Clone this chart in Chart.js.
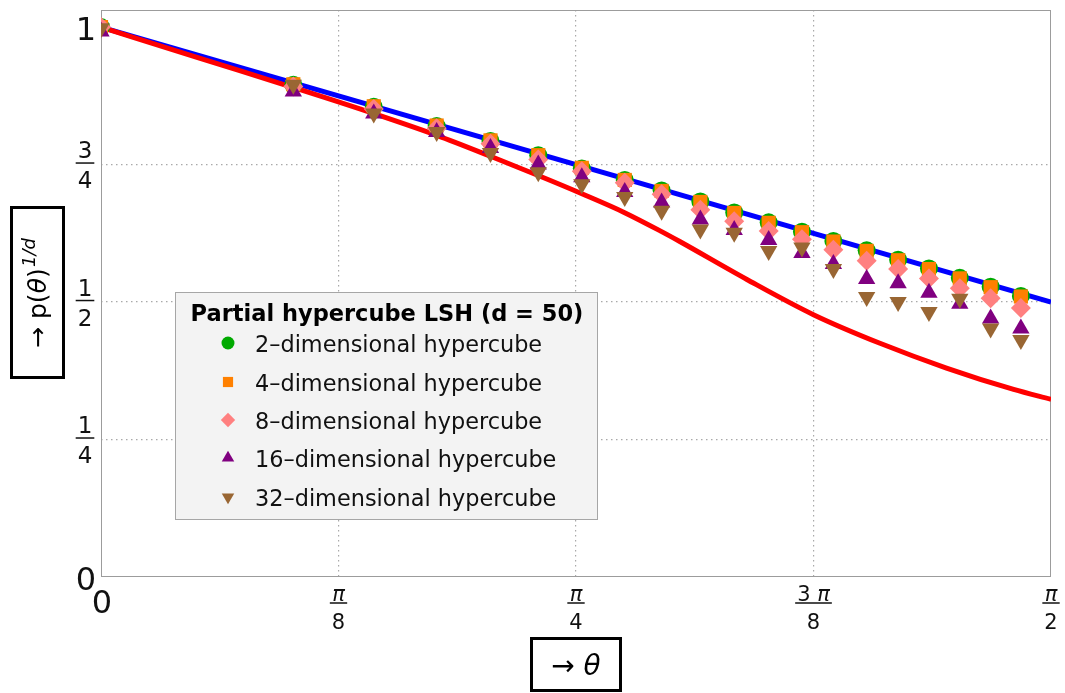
<!DOCTYPE html>
<html>
<head>
<meta charset="utf-8">
<script src="https://cdn.jsdelivr.net/npm/chart.js@4.4.1/dist/chart.umd.min.js"></script>
<style>
    html, body { margin: 0; padding: 0; background: #fff; }
</style>
</head>
<body>
<canvas id="chart" width="1065" height="693"></canvas>
<script>
// Sample angles (radians) and measured collision rates p(theta)^(1/d)
const thetaValues = [0, 0.318, 0.451, 0.555, 0.644, 0.723, 0.795, 0.866, 0.927, 0.991,
    1.047, 1.104, 1.159, 1.211, 1.266, 1.318, 1.369, 1.420, 1.471, 1.521];
const cube2 = [1.000, 0.895, 0.855, 0.820, 0.793, 0.767, 0.743, 0.722, 0.703, 0.683,
    0.663, 0.645, 0.628, 0.611, 0.594, 0.577, 0.561, 0.544, 0.528, 0.511];
const cube4 = [1.000, 0.896, 0.856, 0.821, 0.794, 0.767, 0.744, 0.722, 0.702, 0.682,
    0.662, 0.644, 0.627, 0.610, 0.593, 0.576, 0.560, 0.543, 0.527, 0.510];
const cube8 = [1.000, 0.892, 0.851, 0.816, 0.788, 0.759, 0.738, 0.717, 0.696, 0.668,
    0.647, 0.629, 0.614, 0.595, 0.575, 0.560, 0.543, 0.525, 0.507, 0.489];
const cube16 = [0.992, 0.883, 0.843, 0.809, 0.780, 0.750, 0.727, 0.700, 0.681, 0.650,
    0.631, 0.613, 0.589, 0.569, 0.542, 0.534, 0.517, 0.497, 0.470, 0.452];
const cube32 = [0.998, 0.895, 0.843, 0.809, 0.771, 0.736, 0.714, 0.691, 0.666, 0.632,
    0.626, 0.593, 0.599, 0.560, 0.509, 0.500, 0.482, 0.506, 0.452, 0.431];

// Reference curves
const blueTheta = [0, 1.5708];
const blueValues = [1.0, 0.5];
const redTheta = [0, 0.164, 0.318, 0.428, 0.555, 0.644, 0.723, 0.797, 0.865, 0.927,
    0.957, 1.068, 1.178, 1.288, 1.398, 1.509, 1.571];
const redValues = [1.000, 0.943, 0.890, 0.851, 0.803, 0.765, 0.730, 0.696, 0.663, 0.628,
    0.610, 0.541, 0.477, 0.425, 0.380, 0.341, 0.323];

// Ticks
const xTickValues = [0, 0.3927, 0.7854, 1.1781, 1.5708];
const xTickNumerators = ['0', 'π', 'π', '3 π', 'π'];
const xTickDenominators = ['', '8', '4', '8', '2'];
const yTickValues = [0, 0.25, 0.5, 0.75, 1];
const yTickNumerators = ['0', '1', '1', '3', '1'];
const yTickDenominators = ['', '4', '2', '4', ''];

const legendTitle = 'Partial hypercube LSH (d = 50)';
const seriesNames = ['2–dimensional hypercube', '4–dimensional hypercube', '8–dimensional hypercube',
    '16–dimensional hypercube', '32–dimensional hypercube'];

const FONT = '"DejaVu Sans", Verdana, sans-serif';

function points(xs, ys) {
    return xs.map((x, i) => ({ x: x, y: ys[i] }));
}

function markerSet(label, values, color, style, radius, rotation, order) {
    return {
        label: label,
        data: points(thetaValues, values),
        showLine: false,
        pointStyle: style,
        pointRadius: radius,
        pointRotation: rotation,
        pointBackgroundColor: color,
        pointBorderColor: color,
        pointBorderWidth: 0,
        borderWidth: 0,
        backgroundColor: color,
        borderColor: color,
        legendRadius: radius * 0.72,
        clip: 0,
        order: order
    };
}

// draw a run of text pieces, some italic; returns total width
function pieceWidth(ctx, pieces) {
    let w = 0;
    pieces.forEach(p => {
        ctx.font = p.font;
        w += ctx.measureText(p.t).width;
    });
    return w;
}

function drawPieces(ctx, pieces, x, y) {
    pieces.forEach(p => {
        ctx.font = p.font;
        ctx.fillText(p.t, x, y - (p.rise || 0));
        x += ctx.measureText(p.t).width;
    });
}

function mathPieces(str, size) {
    // π and θ in italics, the rest upright
    const out = [];
    for (const ch of str) {
        const it = ch === 'π' || ch === 'θ';
        out.push({ t: ch, font: (it ? 'italic ' : '') + size + 'px ' + FONT });
    }
    return out;
}

function drawFraction(ctx, cx, barY, num, den, size, numGap, denGap) {
    const np = mathPieces(num, size);
    const dp = mathPieces(den, size);
    const nw = pieceWidth(ctx, np);
    const dw = pieceWidth(ctx, dp);
    const bw = Math.max(nw, dw) + 4;
    ctx.textAlign = 'left';
    ctx.textBaseline = 'alphabetic';
    drawPieces(ctx, np, cx - nw / 2, barY - numGap);
    drawPieces(ctx, dp, cx - dw / 2, barY + denGap);
    ctx.fillRect(cx - bw / 2, barY - 0.75, bw, 1.5);
}

const decorPlugin = {
    id: 'decor',
    beforeDatasetsDraw(chart) {
        const { ctx, chartArea: a } = chart;
        ctx.save();
        ctx.strokeStyle = '#9c9c9c';
        ctx.lineWidth = 1;
        ctx.strokeRect(a.left + 0.5, a.top + 0.5, a.right - a.left - 1, a.bottom - a.top - 1);
        ctx.restore();
    },
    afterDatasetsDraw(chart) {
        const ctx = chart.ctx;
        // legend box
        const bx = 175.5, by = 292.5, bw = 422, bh = 227;
        ctx.save();
        ctx.fillStyle = '#f3f3f3';
        ctx.fillRect(bx, by, bw, bh);
        ctx.strokeStyle = '#a6a6a6';
        ctx.lineWidth = 1;
        ctx.strokeRect(bx, by, bw, bh);
        ctx.fillStyle = '#000';
        ctx.font = 'bold 22.5px ' + FONT;
        ctx.textAlign = 'center';
        ctx.textBaseline = 'alphabetic';
        ctx.fillText(legendTitle, 387, 321);
        const rowY = [343, 382, 420, 458, 497];
        const sets = chart.data.datasets.filter(d => d.showLine === false);
        sets.forEach((ds, i) => {
            ctx.fillStyle = ds.pointBackgroundColor;
            ctx.strokeStyle = ds.pointBackgroundColor;
            Chart.helpers.drawPoint(ctx, {
                pointStyle: ds.pointStyle,
                radius: ds.legendRadius,
                rotation: ds.pointRotation,
                borderWidth: 0
            }, 228, rowY[i]);
            ctx.fillStyle = '#111';
            ctx.font = '22.4px ' + FONT;
            ctx.textAlign = 'left';
            ctx.fillText(seriesNames[i], 255, rowY[i] + 8.5);
        });
        ctx.restore();
    },
    afterDraw(chart) {
        const ctx = chart.ctx;
        const xs = chart.scales.x, ys = chart.scales.y;
        ctx.save();
        ctx.fillStyle = '#111';

        // x tick labels
        xTickValues.forEach((v, i) => {
            const px = xs.getPixelForValue(v);
            if (!xTickDenominators[i]) {
                ctx.font = '32px ' + FONT;
                ctx.textAlign = 'center';
                ctx.textBaseline = 'alphabetic';
                ctx.fillText(xTickNumerators[i], px + 1, 613);
            } else {
                drawFraction(ctx, px, 603, xTickNumerators[i], xTickDenominators[i], 21, 2, 26);
            }
        });

        // y tick labels
        yTickValues.forEach((v, i) => {
            const py = ys.getPixelForValue(v);
            if (!yTickDenominators[i]) {
                ctx.font = '32px ' + FONT;
                ctx.textAlign = 'right';
                ctx.textBaseline = 'alphabetic';
                ctx.fillText(yTickNumerators[i], 96, py + 12.5);
            } else {
                drawFraction(ctx, 85, py - 1.5, yTickNumerators[i], yTickDenominators[i], 23, 5, 25);
            }
        });

        // x axis title in a box
        ctx.lineWidth = 3;
        ctx.strokeStyle = '#000';
        ctx.strokeRect(531.5, 638.5, 89, 52);
        ctx.fillStyle = '#000';
        const xt = [{ t: '→ ', font: '28px ' + FONT }, { t: 'θ', font: 'italic 28px ' + FONT }];
        const xtw = pieceWidth(ctx, xt);
        ctx.textAlign = 'left';
        drawPieces(ctx, xt, 576 - xtw / 2, 675);

        // y axis title in a box, rotated
        ctx.strokeRect(11.5, 207.5, 52, 170);
        const yt = [
            { t: '→ p(', font: '25px ' + FONT },
            { t: 'θ', font: 'italic 25px ' + FONT },
            { t: ')', font: '25px ' + FONT },
            { t: ' ', font: '4px ' + FONT },
            { t: '1/d', font: 'italic 18px ' + FONT, rise: 11 }
        ];
        const ytw = pieceWidth(ctx, yt);
        ctx.translate(46, 293);
        ctx.rotate(-Math.PI / 2);
        drawPieces(ctx, yt, -ytw / 2, 0);
        ctx.restore();
    }
};

function gridColor(values, hidden) {
    return ctx => {
        const v = ctx.tick ? ctx.tick.value : null;
        return hidden.some(h => Math.abs(h - v) < 1e-6) ? 'rgba(0,0,0,0)' : '#a9a9a9';
    };
}

const config = {
    type: 'scatter',
    data: {
        datasets: [
            {
                label: 'linear',
                data: points(blueTheta, blueValues),
                showLine: true,
                borderColor: '#0000ff',
                borderWidth: 5,
                pointRadius: 0,
                order: 7
            },
            {
                label: 'curve',
                data: points(redTheta, redValues),
                showLine: true,
                borderColor: '#ff0000',
                borderWidth: 5,
                pointRadius: 0,
                cubicInterpolationMode: 'monotone',
                order: 6
            },
            markerSet(seriesNames[0], cube2, '#00aa00', 'circle', 9, 0, 5),
            markerSet(seriesNames[1], cube4, '#ff8000', 'rect', 10, 0, 4),
            markerSet(seriesNames[2], cube8, '#ff8080', 'rectRot', 10, 0, 3),
            markerSet(seriesNames[3], cube16, '#800080', 'triangle', 10, 0, 2),
            markerSet(seriesNames[4], cube32, '#996633', 'triangle', 10, 180, 1)
        ]
    },
    options: {
        responsive: false,
        animation: false,
        layout: { padding: { left: 101, right: 14, top: 6, bottom: 116 } },
        plugins: {
            legend: { display: false },
            tooltip: { enabled: false }
        },
        scales: {
            x: {
                type: 'linear',
                min: 0,
                max: 1.5708,
                afterBuildTicks: s => { s.ticks = xTickValues.map(v => ({ value: v })); },
                afterFit: s => { s.height = 0; },
                ticks: { display: false },
                grid: { color: gridColor(xTickValues, [0, 1.5708]), lineWidth: 1.2, drawTicks: false },
                border: { display: false, dash: [1.5, 3.5] }
            },
            y: {
                type: 'linear',
                min: 0,
                max: 1.031,
                afterBuildTicks: s => { s.ticks = yTickValues.map(v => ({ value: v })); },
                afterFit: s => { s.width = 0; },
                ticks: { display: false },
                grid: { color: gridColor(yTickValues, [0, 1]), lineWidth: 1.2, drawTicks: false },
                border: { display: false, dash: [1.5, 3.5] }
            }
        }
    },
    plugins: [decorPlugin]
};

new Chart(document.getElementById('chart'), config);
</script>
</body>
</html>
